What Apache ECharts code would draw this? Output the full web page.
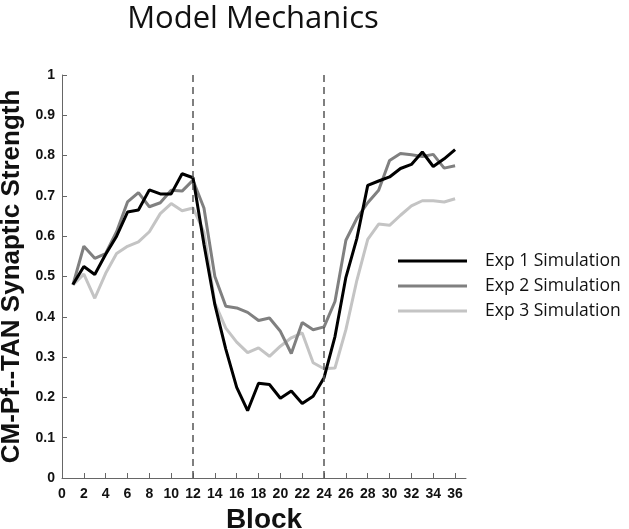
<!DOCTYPE html>
<html>
<head>
<meta charset="utf-8">
<script src="https://cdn.jsdelivr.net/npm/echarts@6/dist/echarts.min.js"></script>
<style>
html,body{margin:0;padding:0;background:#fff;}
#chart{width:629px;height:529px;}
</style>
</head>
<body>
<div id="chart"></div>
<script>
var blocks = [1,2,3,4,5,6,7,8,9,10,11,12,13,14,15,16,17,18,19,20,21,22,23,24,25,26,27,28,29,30,31,32,33,34,35,36];
var exp1 = [0.48,0.525,0.505,0.555,0.60,0.66,0.665,0.715,0.705,0.705,0.755,0.745,0.58,0.43,0.32,0.225,0.167,0.235,0.232,0.198,0.216,0.185,0.203,0.249,0.351,0.498,0.594,0.726,0.737,0.747,0.768,0.778,0.809,0.773,0.792,0.815];
var exp2 = [0.479,0.575,0.545,0.557,0.611,0.685,0.708,0.673,0.683,0.714,0.712,0.739,0.67,0.50,0.426,0.422,0.411,0.391,0.397,0.364,0.309,0.386,0.368,0.375,0.438,0.59,0.644,0.683,0.714,0.788,0.805,0.802,0.798,0.803,0.769,0.775];
var exp3 = [0.479,0.506,0.446,0.508,0.557,0.575,0.586,0.611,0.656,0.681,0.663,0.670,0.61,0.434,0.372,0.337,0.311,0.323,0.302,0.327,0.348,0.360,0.286,0.271,0.273,0.368,0.49,0.592,0.63,0.627,0.652,0.675,0.688,0.688,0.685,0.693];
var seriesNames = ['Exp 1 Simulation','Exp 2 Simulation','Exp 3 Simulation'];
var xTicks = [0,2,4,6,8,10,12,14,16,18,20,22,24,26,28,30,32,34,36];
var phaseBoundaries = [12,24];

function pairs(vals){ return blocks.map(function(b,i){ return [b, vals[i]]; }); }

var chart = echarts.init(document.getElementById('chart'), null, {renderer:'canvas'});
var axisColor = '#666';
var tickFont = {color:'#111', fontSize:14, fontWeight:'bold', fontFamily:'Liberation Sans, Arial, sans-serif'};
var colors = ['#000000','#808080','#c4c4c4'];
var datasets = [exp1, exp2, exp3];

var series = datasets.map(function(d, i){
  var s = {
    name: seriesNames[i], type:'line', data: pairs(d), symbol:'none', showSymbol:false,
    lineStyle:{color:colors[i], width:3}, itemStyle:{color:colors[i]}, z: 3 - i, animation:false
  };
  if (i === 0) {
    s.markLine = {
      silent:true, symbol:['none','none'], label:{show:false},
      lineStyle:{color:'#555', width:1.5, type:[7,5]},
      data: phaseBoundaries.map(function(x){ return [{coord:[x,0]},{coord:[x,1]}]; })
    };
  }
  return s;
});

chart.setOption({
  animation:false,
  backgroundColor:'#fff',
  title:{
    text:'Model Mechanics', left:248, top:-1, textAlign:'center',
    textStyle:{fontFamily:'Open Sans, sans-serif', fontWeight:'normal', fontSize:31, color:'#111'}
  },
  legend:{
    orient:'vertical', left:393, top:246,
    icon:'rect', itemWidth:69, itemHeight:3, itemGap:5,
    textStyle:{fontFamily:'Open Sans, sans-serif', fontSize:17.5, color:'#111', padding:[0,0,0,13], lineHeight:20},
    data: seriesNames
  },
  grid:{left:62, right:163, top:75, bottom:51, containLabel:false, outerBoundsMode:'none'},
  xAxis:{
    type:'value', min:0, max:37, interval:2,
    name:'Block', nameLocation:'middle', nameGap:19,
    nameTextStyle:{fontFamily:'Liberation Sans, Arial, sans-serif', fontWeight:'bold', fontSize:28, color:'#111', verticalAlign:'top'},
    axisLine:{show:true, lineStyle:{color:axisColor, width:1}},
    axisTick:{show:true, inside:true, length:5, lineStyle:{color:axisColor}, customValues:xTicks},
    axisLabel:Object.assign({margin:9, customValues:xTicks}, tickFont),
    splitLine:{show:false}
  },
  yAxis:{
    type:'value', min:0, max:1, interval:0.1,
    name:'CM-Pf--TAN Synaptic Strength', nameLocation:'middle', nameGap:31, nameRotate:90,
    nameTextStyle:{fontFamily:'Liberation Sans, Arial, sans-serif', fontWeight:'bold', fontSize:26, color:'#111'},
    axisLine:{show:true, lineStyle:{color:axisColor, width:1}},
    axisTick:{show:true, inside:true, length:5, lineStyle:{color:axisColor}},
    axisLabel:Object.assign({margin:7, formatter:function(v){ return String(Math.round(v*10)/10); }}, tickFont),
    splitLine:{show:false}
  },
  series: series
});
</script>
</body>
</html>
